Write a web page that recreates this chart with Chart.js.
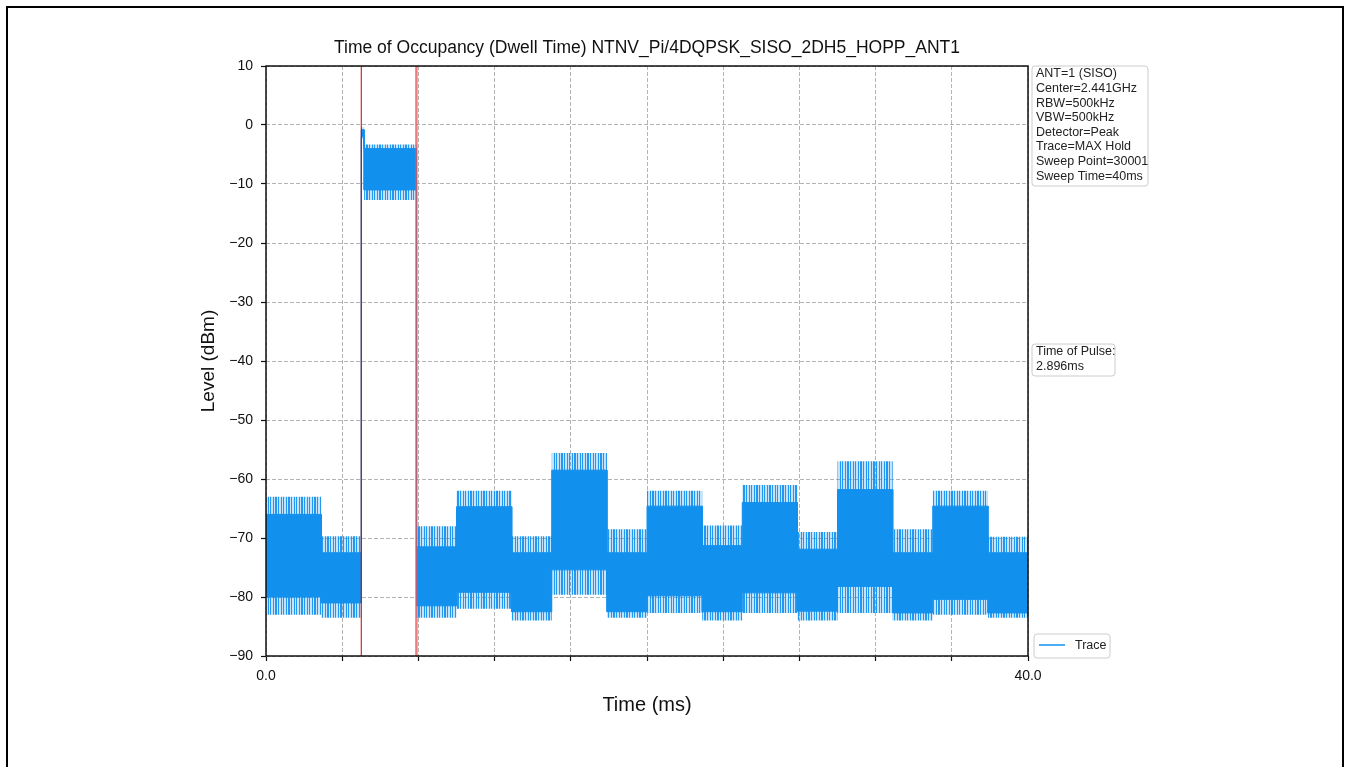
<!DOCTYPE html>
<html>
<head>
<meta charset="utf-8">
<title>Time of Occupancy (Dwell Time)</title>
<script src="https://cdn.jsdelivr.net/npm/chart.js@4/dist/chart.umd.min.js"></script>
<style>
  html, body { margin: 0; padding: 0; background: #fff; }
  #wrap { width: 1348px; height: 767px; }
</style>
</head>
<body>
<div id="wrap"><canvas id="dwell" width="1348" height="767"></canvas></div>
<script>
const segStart    = [0.0, 2.9, 5.0, 5.15, 7.9, 10.0, 12.9, 15.0, 17.9, 20.0, 22.9, 25.0, 27.9, 30.0, 32.9, 35.0, 37.9];
const segEnd      = [2.9, 5.0, 5.15, 7.9, 10.0, 12.9, 15.0, 17.9, 20.0, 22.9, 25.0, 27.9, 30.0, 32.9, 35.0, 37.9, 40.0];
const peakTop     = [-63.0, -69.7, -0.4, -3.3, -68.0, -62.0, -69.7, -55.6, -68.5, -62.0, -67.9, -61.0, -69.0, -57.0, -68.5, -62.0, -69.8];
const denseTop    = [-66.0, -72.5, -0.8, -4.0, -71.5, -64.7, -72.5, -58.5, -72.5, -64.6, -71.3, -64.0, -71.9, -61.8, -72.5, -64.6, -72.5];
const denseBottom = [-80.0, -81.0, -2.0, -11.0, -81.5, -79.2, -82.5, -75.4, -82.5, -79.8, -82.5, -79.3, -82.4, -78.2, -82.7, -80.4, -82.7];
const peakBottom  = [-83.0, -83.5, -2.4, -12.7, -83.5, -82.0, -84.0, -79.6, -83.5, -82.7, -84.0, -82.7, -84.0, -82.7, -84.0, -83.0, -83.5];

// pulse markers (ms)
const markerTimes = [5.0, 7.896];

// axis ticks
const yTicks = [10, 0, -10, -20, -30, -40, -50, -60, -70, -80, -90];
const xTickStep = 4;
const xLabelled = [0, 40];

// text on the figure
const chartTitle = 'Time of Occupancy (Dwell Time) NTNV_Pi/4DQPSK_SISO_2DH5_HOPP_ANT1';
const infoLines = ['ANT=1 (SISO)', 'Center=2.441GHz', 'RBW=500kHz', 'VBW=500kHz',
  'Detector=Peak', 'Trace=MAX Hold', 'Sweep Point=30001', 'Sweep Time=40ms'];
const pulseLines = ['Time of Pulse:', '2.896ms'];
const legendLabel = 'Trace';

const BLUE = 'rgb(18,144,238)';
const FONT = "'Liberation Sans', Arial, Helvetica, sans-serif";
Chart.defaults.font.family = FONT;
Chart.defaults.color = '#111';

// thin uneven vertical strokes, used as texture for the sparse peak zone
const spikeTexture = (() => {
  const c = document.createElement('canvas');
  c.width = 13; c.height = 1;
  const g = c.getContext('2d');
  g.fillStyle = 'rgba(18,144,238,0.25)';
  g.fillRect(0, 0, 13, 1);
  g.fillStyle = 'rgba(18,144,238,0.9)';
  [0, 2, 3, 5, 8, 10].forEach(x => g.fillRect(x, 0, 1, 1));
  return g.createPattern(c, 'repeat');
})();

const envelope = (vals) => {
  const pts = [];
  segStart.forEach((s, i) => {
    pts.push({ x: s, y: vals[i] }, { x: segEnd[i], y: vals[i] });
  });
  return pts;
};

const markerLine = (t) => [{ x: t, y: yTicks[yTicks.length - 1] }, { x: t, y: yTicks[0] }];

const lineBase = { pointRadius: 0, pointHoverRadius: 0, tension: 0 };

const datasets = [
  { ...lineBase, label: 'marker1', data: markerLine(markerTimes[0]), borderColor: '#c80000', borderWidth: 1, fill: false },
  { ...lineBase, label: 'marker2', data: markerLine(markerTimes[1]), borderColor: 'rgba(238,80,80,0.75)', borderWidth: 2.5, fill: false },
  { ...lineBase, label: 'denseTop', data: envelope(denseTop), borderColor: BLUE, borderWidth: 1, fill: false },
  { ...lineBase, label: 'denseBottom', data: envelope(denseBottom), borderColor: BLUE, borderWidth: 1, fill: '-1', backgroundColor: BLUE },
  { ...lineBase, label: 'peakTop', data: envelope(peakTop), borderColor: 'rgba(0,0,0,0)', borderWidth: 1, fill: false },
  { ...lineBase, label: 'peakBottom', data: envelope(peakBottom), borderColor: 'rgba(0,0,0,0)', borderWidth: 1, fill: '-1', backgroundColor: spikeTexture }
];

const roundBox = (ctx, x, y, w, h, r) => {
  ctx.beginPath();
  ctx.moveTo(x + r, y);
  ctx.arcTo(x + w, y, x + w, y + h, r);
  ctx.arcTo(x + w, y + h, x, y + h, r);
  ctx.arcTo(x, y + h, x, y, r);
  ctx.arcTo(x, y, x + w, y, r);
  ctx.closePath();
  ctx.fillStyle = 'rgba(255,255,255,0.85)';
  ctx.fill();
  ctx.strokeStyle = '#cccccc';
  ctx.lineWidth = 1;
  ctx.stroke();
};

// frame, title, plot border, text boxes and legend
const decor = {
  id: 'decor',
  beforeDraw(chart) {
    const ctx = chart.ctx;
    ctx.save();
    ctx.fillStyle = '#fff';
    ctx.fillRect(0, 0, chart.width, chart.height);
    ctx.restore();
  },
  afterDraw(chart) {
    const ctx = chart.ctx;
    const a = chart.chartArea;
    ctx.save();
    // outer frame
    ctx.strokeStyle = '#000';
    ctx.lineWidth = 2;
    ctx.beginPath();
    ctx.moveTo(7, chart.height);
    ctx.lineTo(7, 7);
    ctx.lineTo(1343, 7);
    ctx.lineTo(1343, chart.height);
    ctx.stroke();
    // plot border
    ctx.lineWidth = 1.5;
    ctx.strokeStyle = '#111';
    ctx.strokeRect(a.left, a.top, a.right - a.left, a.bottom - a.top);

    // title over the plot
    ctx.fillStyle = '#111';
    ctx.font = '17.5px ' + FONT;
    ctx.textAlign = 'center';
    ctx.textBaseline = 'middle';
    ctx.fillText(chartTitle, (a.left + a.right) / 2, 48);

    ctx.font = '12.5px ' + FONT;
    ctx.textAlign = 'left';
    // info box
    const bx = a.right + 4;
    roundBox(ctx, bx, a.top, 116, 120, 3);
    ctx.fillStyle = '#222';
    infoLines.forEach((t, i) => ctx.fillText(t, bx + 4, a.top + 8 + i * 14.6));
    // pulse box
    roundBox(ctx, bx, 344, 83, 32, 3);
    ctx.fillStyle = '#222';
    pulseLines.forEach((t, i) => ctx.fillText(t, bx + 4, 352 + i * 15));
    // legend
    roundBox(ctx, bx + 2, a.bottom - 22, 76, 24, 3);
    ctx.strokeStyle = BLUE;
    ctx.lineWidth = 1.5;
    ctx.beginPath();
    ctx.moveTo(bx + 7, a.bottom - 11);
    ctx.lineTo(bx + 33, a.bottom - 11);
    ctx.stroke();
    ctx.fillStyle = '#222';
    ctx.fillText(legendLabel, bx + 43, a.bottom - 10);
    ctx.restore();
  }
};

const minusFmt = (v) => (v < 0 ? '\u2212' + Math.abs(v) : String(v));

new Chart(document.getElementById('dwell'), {
  type: 'line',
  data: { datasets },
  plugins: [decor],
  options: {
    responsive: false,
    animation: false,
    events: [],
    layout: { padding: { left: 193, right: 320, top: 66, bottom: 46 } },
    plugins: {
      legend: { display: false },
      tooltip: { enabled: false },
      title: { display: false }
    },
    scales: {
      x: {
        type: 'linear',
        min: 0,
        max: 40,
        z: 1,
        afterFit: (s) => { s.height = 65; },
        ticks: {
          stepSize: xTickStep,
          autoSkip: false,
          maxRotation: 0,
          padding: 7,
          color: '#111',
          font: { size: 14 },
          callback: (v) => (xLabelled.includes(v) ? v.toFixed(1) : '')
        },
        grid: { color: '#b4b4b4', lineWidth: 1, tickLength: 5, tickColor: '#111', tickWidth: 1.2, tickBorderDash: [] },
        border: { display: false, dash: [4, 2] },
        title: { display: true, text: 'Time (ms)', color: '#111', font: { size: 20 } }
      },
      y: {
        type: 'linear',
        min: yTicks[yTicks.length - 1],
        max: yTicks[0],
        z: 1,
        afterFit: (s) => { s.width = 73; },
        ticks: {
          stepSize: 10,
          padding: 8,
          color: '#111',
          font: { size: 14 },
          callback: minusFmt
        },
        grid: { color: '#b4b4b4', lineWidth: 1, tickLength: 5, tickColor: '#111', tickWidth: 1.2, tickBorderDash: [] },
        border: { display: false, dash: [4, 2] },
        title: { display: true, text: 'Level (dBm)', color: '#111', font: { size: 19 } }
      }
    }
  }
});
</script>
</body>
</html>
